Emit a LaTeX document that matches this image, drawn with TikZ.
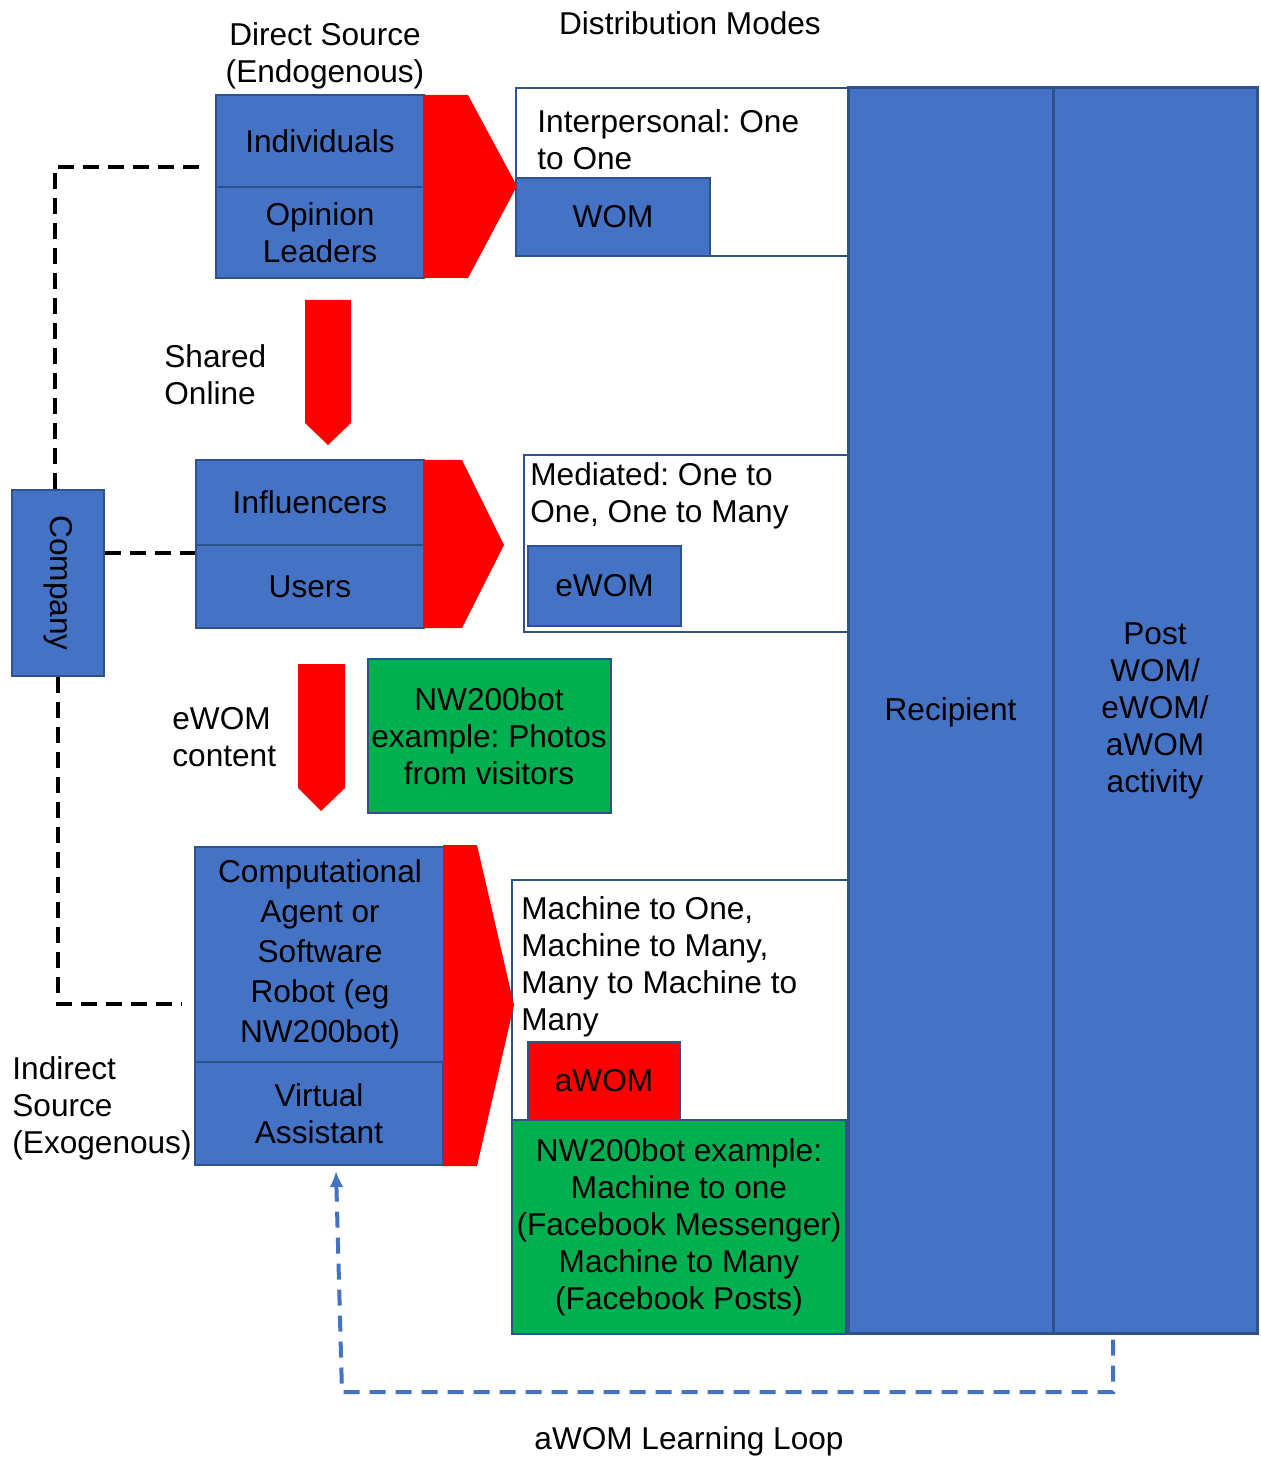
\documentclass[tikz,border=0pt]{standalone}
\usepackage{fontspec}
\setmainfont{Liberation Sans}
\usepackage{tikz}
\usetikzlibrary{arrows.meta}

\definecolor{boxblue}{HTML}{4472C4}
\definecolor{edgeblue}{HTML}{2F528F}
\definecolor{exgreen}{HTML}{00B050}
\newcommand{\diagfont}{\frenchspacing\fontsize{15.8}{18.5}\selectfont}

\begin{document}
\begin{tikzpicture}[x=0.5pt, y=-0.5pt, every node/.style={font=\diagfont, inner sep=0pt},
	bluebox/.style={draw=edgeblue, fill=boxblue, line width=1pt, align=center},
	modebox/.style={draw=edgeblue, fill=white, line width=1pt},
	greenbox/.style={draw=edgeblue, fill=exgreen, line width=1pt, align=center},
	redbox/.style={draw=edgeblue, fill=red, line width=1pt},
	redarrow/.style={fill=red},
	companyline/.style={line width=2pt, dash pattern=on 8pt off 4.5pt},
	loopline/.style={draw=boxblue, line width=2pt, dash pattern=on 8pt off 5pt, -{Latex[length=8pt, width=7pt]}}]
	\useasboundingbox (0,0) rectangle (1260,1459);
	\node[modebox, minimum width=166pt, minimum height=84pt] (womarea) at (682,172) {};
	\node[modebox, minimum width=162pt, minimum height=88.5pt] (medarea) at (686,543.5) {};
	\node[modebox, minimum width=168pt, minimum height=120pt] (macharea) at (680,1000) {};
	\node[bluebox, minimum width=102.5pt, minimum height=622.5pt, line width=1.5pt, text height=13.5pt] (recip) at (950.5,710.5) {Recipient};
	\node[bluebox, minimum width=102pt, minimum height=622.5pt, line width=1.5pt] (post) at (1155,710.5) {Post\\WOM/\\eWOM/\\aWOM\\activity};
	\node[bluebox, minimum width=104pt, minimum height=46pt] (ind) at (320,141) {Individuals};
	\node[bluebox, minimum width=104pt, minimum height=45.5pt] (opl) at (320,232.5) {Opinion\\Leaders};
	\node[bluebox, minimum width=114pt, minimum height=42.5pt] (inf) at (310,502.5) {Influencers};
	\node[bluebox, minimum width=114pt, minimum height=41.5pt] (usr) at (310,586.5) {Users};
	\node[bluebox, minimum width=125pt, minimum height=107.5pt, font=\frenchspacing\fontsize{15.8}{20}\selectfont] (comp) at (320,954.5) {Computational\\Agent or\\Software\\Robot (eg\\NW200bot)};
	\node[bluebox, minimum width=124pt, minimum height=51.5pt] (va) at (319,1113.5) {Virtual\\Assistant};
	\node[bluebox, minimum width=93pt, minimum height=46pt, rotate=-90] (company) at (58,583) {Company};
	\node[bluebox, minimum width=97pt, minimum height=39pt] (wom) at (613,217) {WOM};
	\node[bluebox, minimum width=76.5pt, minimum height=40pt] (ewom) at (604.5,586) {eWOM};
	\node[redbox, minimum width=76pt, minimum height=39pt] (awom) at (604,1081) {aWOM};
	\node[greenbox, minimum width=121.5pt, minimum height=77pt] (photos) at (489,736) {NW200bot\\example: Photos\\from visitors};
	\node[greenbox, minimum width=167pt, minimum height=107pt] (fbex) at (679,1227) {NW200bot example:\\Machine to one\\(Facebook Messenger)\\Machine to Many\\(Facebook Posts)};
	\node[anchor=west, align=left] (interp) at (537,140) {Interpersonal: One\\to One};
	\node[anchor=west, align=left] (mediated) at (530,496) {Mediated: One to\\One, One to Many};
	\node[anchor=west, align=left] (machine) at (521,967) {Machine to One,\\Machine to Many,\\Many to Machine to\\Many};
	\node (distmodes) at (690,23) {Distribution Modes};
	\node[align=center] (direct) at (325,56) {Direct Source\\(Endogenous)};
	\node[anchor=west, align=left] (shared) at (164,375) {Shared\\Online};
	\node[anchor=west, align=left] (ewomcontent) at (172,737) {eWOM\\content};
	\node[anchor=west, align=left] (indirect) at (12,1108) {Indirect\\Source\\(Exogenous)};
	\node (looplabel) at (689,1441) {aWOM Learning Loop};
	\fill[redarrow] (424,95) -- (468,95) -- (517,186) -- (468,278) -- (424,278) -- cycle;
	\fill[redarrow] (305,300) -- (351,300) -- (351,423) -- (328,445) -- (305,423) -- cycle;
	\fill[redarrow] (424,460) -- (462,460) -- (504,545) -- (462,628) -- (424,628) -- cycle;
	\fill[redarrow] (298,664) -- (345,664) -- (345,788) -- (321,811) -- (298,788) -- cycle;
	\fill[redarrow] (443,845) -- (477,845) -- (514,1005) -- (477,1166) -- (443,1166) -- cycle;
	\draw[companyline] ([xshift=-1.5pt]company.west) |- ([xshift=-6pt, yshift=-13pt]ind.west);
	\draw[companyline] ([yshift=15pt]company.north) -- ([yshift=15pt]company.north -| usr.west);
	\draw[companyline] (company.east) |- ([xshift=-6pt, yshift=-24.75pt]comp.west);
	\coordinate (loopcorner) at (342,1392);
	\draw[loopline] ([xshift=-21pt, yshift=-2.5pt]post.south) |- (loopcorner) -- ([xshift=8.5pt, yshift=-2.5pt]va.south);
\end{tikzpicture}
\end{document}
